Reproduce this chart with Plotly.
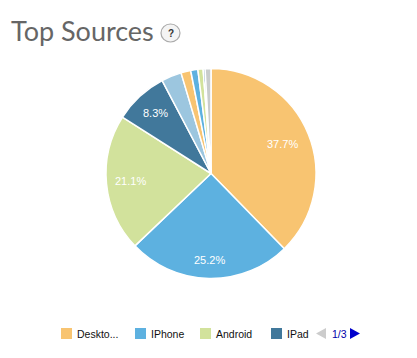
import math
import plotly.graph_objects as go

W, H = 417, 358
labels = ["Desktop", "iPhone", "Android", "iPad", "Other 1", "Other 2", "Other 3", "Other 4", "Other 5", "Other 6"]
values = [37.7, 25.2, 21.1, 8.3, 3.1, 1.5, 1.1, 0.8, 0.3, 0.9]
colors = ["#F8C471", "#5DB1E0", "#D2E29C", "#41789B", "#9CC6DF", "#F8C471", "#5DB1E0", "#D2E29C", "#41789B", "#C8CCCC"]
label_radius = [77, 87, 81, 82, 0, 0, 0, 0, 0, 0]
legend_labels = ["Deskto...", "IPhone", "Android", "IPad"]
legend_colors = colors[:4]
legend_x = [61, 135, 200, 271]
page_text = "1/3"

def px(x): return x / W
def py(y): return 1 - y / H

CX, CY, R = 211, 173.5, 105

fig = go.Figure(go.Pie(
    labels=labels, values=values, sort=False, direction="clockwise", rotation=0,
    textinfo="none",
    marker=dict(colors=colors, line=dict(color="white", width=1.5)),
    hoverinfo="label+percent", showlegend=False,
    domain=dict(x=[px(CX - R), px(CX + R)], y=[py(CY + R), py(CY - R)]),
))

shapes, ann = [], []
total = sum(values)
cum = 0
for v, r in zip(values, label_radius):
    if v > 5:
        a = 2 * math.pi * (cum + v / 2) / total
        ann.append(dict(text=f"{v:.1f}%", xref="paper", yref="paper",
                        x=px(CX + r * math.sin(a)), y=py(CY - r * math.cos(a)),
                        xanchor="center", yanchor="middle", showarrow=False,
                        font=dict(family="Liberation Sans", size=11, color="white")))
    cum += v

for x, c, t in zip(legend_x, legend_colors, legend_labels):
    shapes.append(dict(type="rect", xref="paper", yref="paper", x0=px(x), x1=px(x + 11),
                       y0=py(339), y1=py(328), fillcolor=c, line_width=0))
    ann.append(dict(text=t, xref="paper", yref="paper", x=px(x + 14), y=py(333.5), xanchor="left",
                    yanchor="middle", showarrow=False, font=dict(family="Liberation Sans", size=10.5, color="#111111")))
shapes.append(dict(type="path", xref="paper", yref="paper",
                   path=f"M {px(326)} {py(328)} L {px(326)} {py(339)} L {px(316)} {py(333.5)} Z",
                   fillcolor="#CCCCCC", line_width=0))
shapes.append(dict(type="path", xref="paper", yref="paper",
                   path=f"M {px(350)} {py(328)} L {px(350)} {py(339)} L {px(360)} {py(333.5)} Z",
                   fillcolor="#0000CC", line_width=0))
ann.append(dict(text=page_text, xref="paper", yref="paper", x=px(339), y=py(333.5), xanchor="center",
                yanchor="middle", showarrow=False, font=dict(family="Liberation Sans", size=10.5, color="#0000AA")))
ann.append(dict(text="Top Sources", xref="paper", yref="paper", x=px(9), y=py(30.5), xanchor="left",
                yanchor="middle", showarrow=False, font=dict(family="Lato", size=27, color="#666666")))
shapes.append(dict(type="circle", xref="paper", yref="paper", x0=px(161), x1=px(180), y0=py(42), y1=py(24),
                   fillcolor="#F4F4F4", line=dict(color="#AAAAAA", width=1.2)))
ann.append(dict(text="<b>?</b>", xref="paper", yref="paper", x=px(170.5), y=py(33), xanchor="center",
                yanchor="middle", showarrow=False, font=dict(family="Liberation Sans", size=10, color="#333333")))

fig.update_layout(width=W, height=H, margin=dict(l=0, r=0, t=0, b=0), paper_bgcolor="white",
                  shapes=shapes, annotations=ann)
fig.write_html("out.html", config=dict(displayModeBar=False),
               post_script="document.body.style.margin='0';")
